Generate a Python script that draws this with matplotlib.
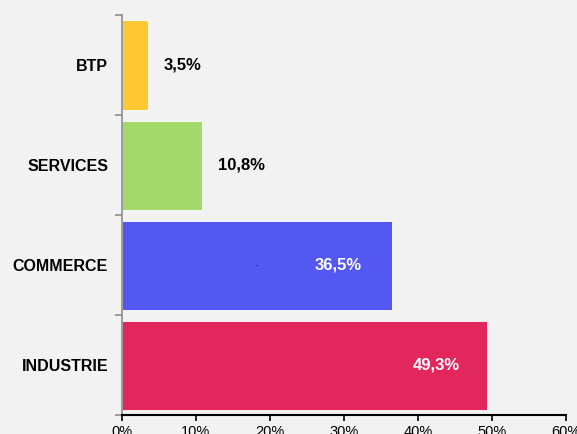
import matplotlib.pyplot as plt
import numpy as np

# data
categories = ["INDUSTRIE", "COMMERCE", "SERVICES", "BTP"]
values = [49.3, 36.5, 10.8, 3.5]
labels = ["49,3%", "36,5%", "10,8%", "3,5%"]
label_x = [42.5, 29.2, 16.2, 8.2]
colors = ["#E2265E", "#5458F2", "#A3D86B", "#FDC832"]
label_colors = ["white", "white", "black", "black"]
xticks = [0, 10, 20, 30, 40, 50, 60]

plt.rcParams['font.family'] = ['Liberation Sans', 'DejaVu Sans']

fig = plt.figure(figsize=(5.77, 4.34), dpi=100)
fig.patch.set_facecolor("#F2F2F2")
ax = fig.add_axes([122/577, 1 - 415/434, (566-122)/577, (415-15)/434])
ax.set_facecolor("#F2F2F2")

y = np.arange(len(categories))
ax.barh(y, values, height=0.89, color=colors, edgecolor="#FFFFFF", linewidth=0.6)

for i in range(len(categories)):
    ax.text(label_x[i], y[i], labels[i], ha="center", va="center",
            fontsize=12, fontweight="bold", color=label_colors[i])

# small stray mark in the COMMERCE bar
ax.text(18.2, 1.0, "-", ha="center", va="center", fontsize=8, color="#2a2aa0")

ax.set_xlim(0, 60)
ax.set_ylim(-0.5, len(categories) - 0.5)
ax.set_xticks(xticks)
ax.set_xticklabels([f"{t}%" for t in xticks], fontsize=10.5)
ax.tick_params(axis="x", length=4, width=1.2, color="black", pad=3)

ax.set_yticks(y)
ax.set_yticklabels(categories, fontsize=11.5, fontweight="bold")
ax.tick_params(axis="y", which="major", length=0, pad=10)
ax.set_yticks(np.arange(len(categories) + 1) - 0.5, minor=True)
ax.tick_params(axis="y", which="minor", length=5, width=1.2, color="#8c8c8c")

for s in ["top", "right"]:
    ax.spines[s].set_visible(False)
ax.spines["left"].set_color("#8c8c8c")
ax.spines["left"].set_linewidth(1.2)
ax.spines["bottom"].set_color("black")
ax.spines["bottom"].set_linewidth(1.5)

fig.savefig("out.png", dpi=100, facecolor=fig.get_facecolor())
